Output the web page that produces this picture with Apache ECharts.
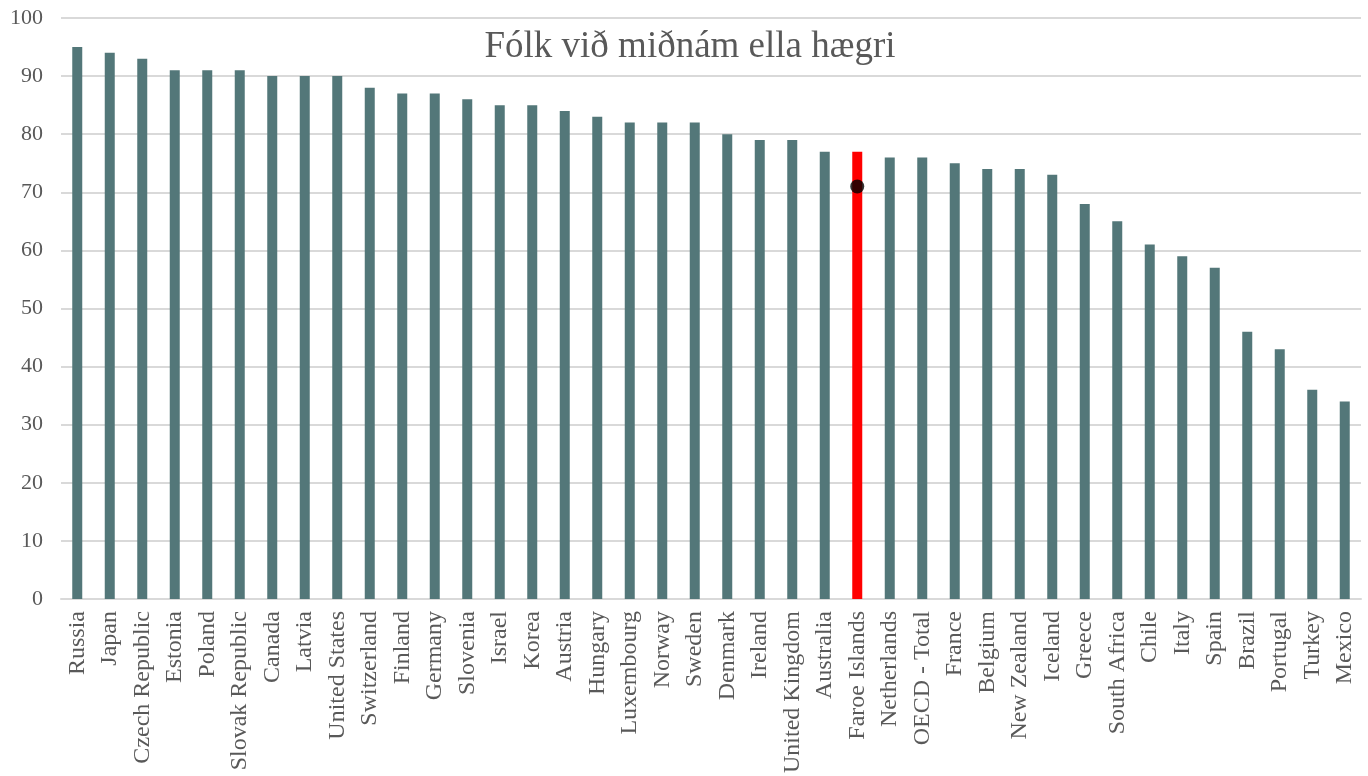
<!DOCTYPE html>
<html>
<head>
<meta charset="utf-8">
<title>Fólk við miðnám ella hægri</title>
<script src="https://cdn.jsdelivr.net/npm/echarts@6/dist/echarts.min.js"></script>
<style>
  html, body { margin: 0; padding: 0; background: #fff; }
  #chart { width: 1368px; height: 776px; }
</style>
</head>
<body>
<div id="chart"></div>
<script>
// lond og virði
var countries = ['Russia', 'Japan', 'Czech Republic', 'Estonia', 'Poland', 'Slovak Republic', 'Canada', 'Latvia',
  'United States', 'Switzerland', 'Finland', 'Germany', 'Slovenia', 'Israel', 'Korea', 'Austria', 'Hungary',
  'Luxembourg', 'Norway', 'Sweden', 'Denmark', 'Ireland', 'United Kingdom', 'Australia', 'Faroe Islands',
  'Netherlands', 'OECD - Total', 'France', 'Belgium', 'New Zealand', 'Iceland', 'Greece', 'South Africa',
  'Chile', 'Italy', 'Spain', 'Brazil', 'Portugal', 'Turkey', 'Mexico'];
var shares = [95, 94, 93, 91, 91, 91, 90, 90, 90, 88, 87, 87, 86, 85, 85, 84, 83, 82, 82, 82, 80, 79, 79, 77, 77,
  76, 76, 75, 74, 74, 73, 68, 65, 61, 59, 57, 46, 43, 36, 34];
var highlight = 'Faroe Islands';
var highlightDot = 71;
var yTicks = [0, 10, 20, 30, 40, 50, 60, 70, 80, 90, 100];

var barColor = '#537779';
var textColor = '#595959';
var serif = '"Liberation Serif", "Times New Roman", serif';

var barData = countries.map(function (c, i) {
  if (c === highlight) {
    return { value: shares[i], itemStyle: { color: '#ff0000' } };
  }
  return shares[i];
});
var dotData = countries.map(function (c) {
  return c === highlight ? highlightDot : null;
});

var myChart = echarts.init(document.getElementById('chart'));

var option = {
  animation: false,
  textStyle: { fontFamily: serif },
  title: {
    text: 'Fólk við miðnám ella hægri',
    left: 685,
    top: 24,
    textAlign: 'center',
    textStyle: { fontFamily: serif, fontSize: 37, fontWeight: 'normal', color: textColor }
  },
  grid: { left: 61, right: 7, top: 18, bottom: 176, containLabel: false },
  xAxis: {
    type: 'category',
    data: countries,
    axisLine: { lineStyle: { color: '#d9d9d9', width: 2 } },
    axisTick: { show: false },
    axisLabel: {
      interval: 0,
      rotate: 90,
      margin: 12,
      color: textColor,
      fontFamily: serif,
      fontSize: 24
    }
  },
  yAxis: {
    type: 'value',
    min: yTicks[0],
    max: yTicks[yTicks.length - 1],
    interval: 10,
    axisLine: { show: false },
    axisTick: { show: false },
    splitLine: { lineStyle: { color: '#d9d9d9', width: 2 } },
    axisLabel: { color: textColor, fontFamily: serif, fontSize: 22, margin: 18 }
  },
  series: [
    {
      name: 'Lutfall',
      type: 'bar',
      barWidth: 10,
      data: barData,
      itemStyle: { color: barColor }
    },
    {
      name: 'Føroyar',
      type: 'scatter',
      data: dotData,
      symbolSize: 14,
      itemStyle: { color: '#000' },
      z: 5
    }
  ]
};
myChart.setOption(option);
</script>
</body>
</html>
